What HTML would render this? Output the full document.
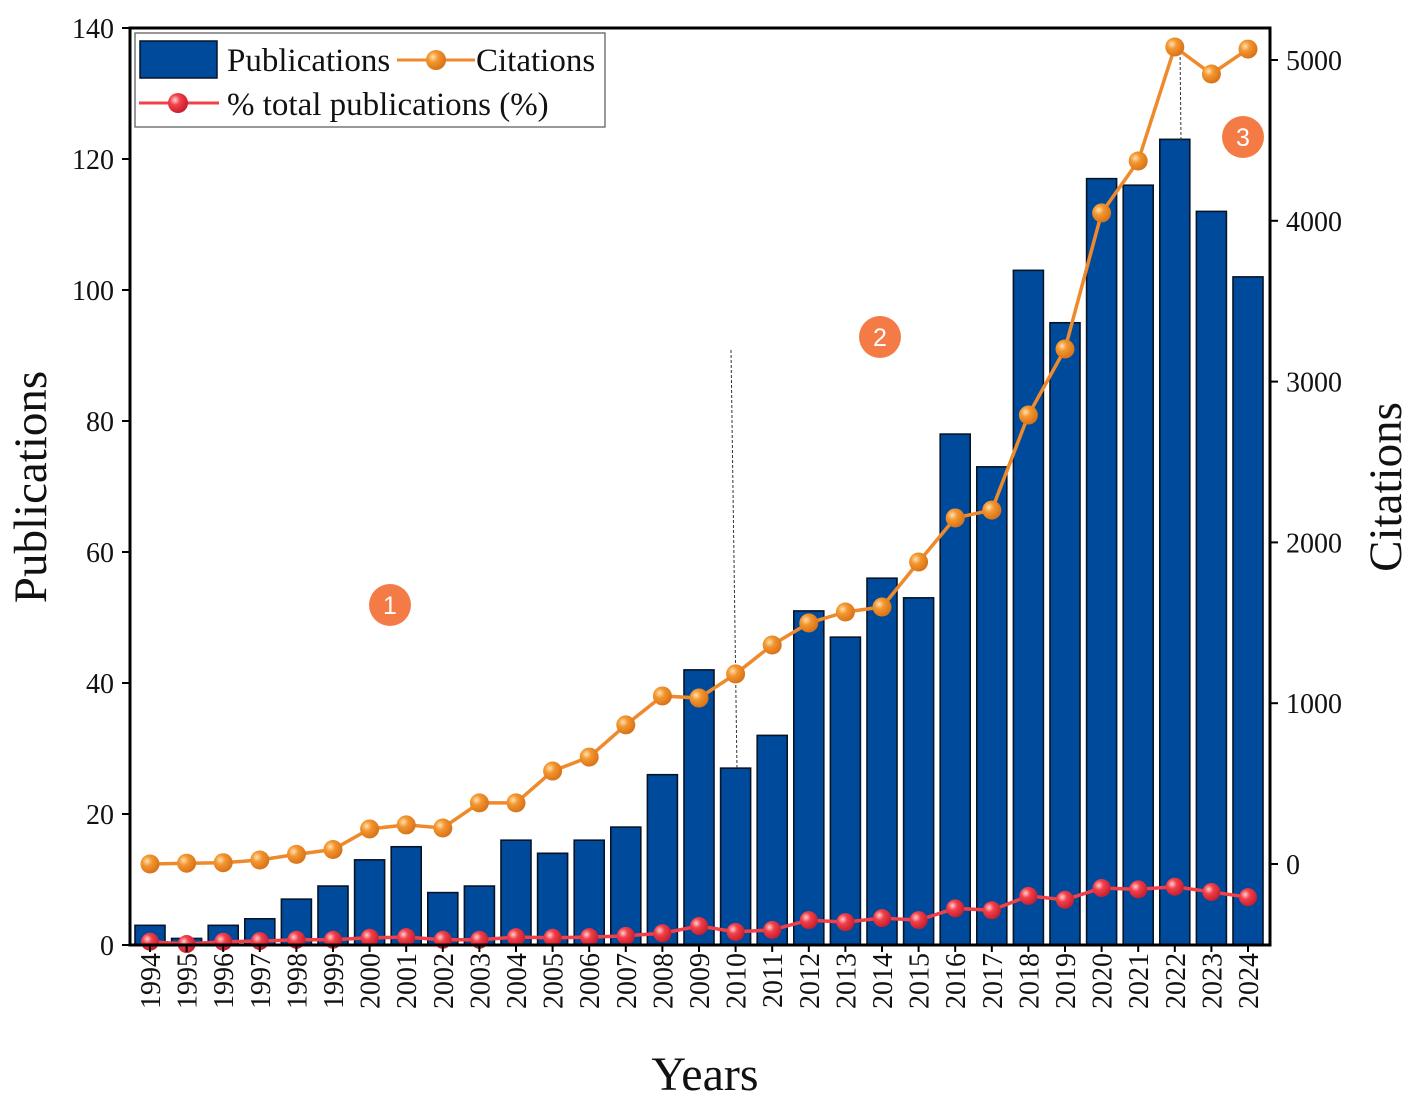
<!DOCTYPE html>
<html><head><meta charset="utf-8"><style>
body{margin:0;background:#fff}
svg{display:block;font-family:"Liberation Serif",serif}
</style></head><body>
<svg id="chart" width="1417" height="1104" viewBox="0 0 1417 1104" xmlns="http://www.w3.org/2000/svg">
<defs>
<radialGradient id="gO" cx="35%" cy="35%" r="65%"><stop offset="0" stop-color="#ffe0b0"/><stop offset="0.4" stop-color="#f3962f"/><stop offset="1" stop-color="#d9741a"/></radialGradient>
<radialGradient id="gR" cx="35%" cy="35%" r="65%"><stop offset="0" stop-color="#ffd0d0"/><stop offset="0.4" stop-color="#f2404a"/><stop offset="1" stop-color="#c82030"/></radialGradient>
</defs>
<g id="marks"></g>
</svg>
<script>
const years=[1994,1995,1996,1997,1998,1999,2000,2001,2002,2003,2004,2005,2006,2007,2008,2009,2010,2011,2012,2013,2014,2015,2016,2017,2018,2019,2020,2021,2022,2023,2024];
const publications=[3,1,3,4,7,9,13,15,8,9,16,14,16,18,26,42,27,32,51,47,56,53,78,73,103,95,117,116,123,112,102];
const citations=[0,5,8,25,60,90,218,243,224,380,380,578,665,865,1045,1032,1182,1362,1499,1567,1598,1878,2152,2201,2792,3203,4049,4372,5081,4913,5068];
const pctTotal=[0.5,0.15,0.5,0.6,0.8,0.8,1.1,1.2,0.8,0.8,1.2,1.1,1.2,1.4,1.8,2.9,2.0,2.3,3.8,3.5,4.1,3.8,5.6,5.3,7.5,6.9,8.7,8.5,8.9,8.1,7.3];
const leftTicks=[0,20,40,60,80,100,120,140];
const rightTicks=[0,1000,2000,3000,4000,5000];

const NS="http://www.w3.org/2000/svg";
const svg=document.getElementById('chart');
const g=document.getElementById('marks');
const L=130,R=1270,T=28,B=945;
const yL=v=>B-(v/140)*(B-T);
const yR=v=>864-v*0.1608;
const step=(1248-150)/30;
const xC=i=>150+i*step;
function el(tag,attrs,parent){const e=document.createElementNS(NS,tag);for(const k in attrs)e.setAttribute(k,attrs[k]);(parent||g).appendChild(e);return e;}

years.forEach((y,i)=>{
  const b=el('rect',{x:xC(i)-15,y:yL(publications[i]),width:30,height:B-yL(publications[i]),fill:'#004a9b',stroke:'#061428','stroke-width':1.6});
  
  
});
const d1=el('line',{x1:731,y1:350,x2:737,y2:770,stroke:'#333','stroke-width':1,'stroke-dasharray':'3,2'});


const d2=el('line',{x1:1180,y1:47,x2:1181,y2:140,stroke:'#333','stroke-width':1,'stroke-dasharray':'3,2'});



const cl=el('polyline',{points:citations.map((v,i)=>xC(i)+','+yR(v)).join(' '),fill:'none',stroke:'#ef8a2c','stroke-width':3.5});


citations.forEach((v,i)=>{
  const c=el('circle',{cx:xC(i),cy:yR(v),r:9.5,fill:'url(#gO)'});
  
  
});
const pl=el('polyline',{points:pctTotal.map((v,i)=>xC(i)+','+yL(v)).join(' '),fill:'none',stroke:'#f2404a','stroke-width':3.5});


pctTotal.forEach((v,i)=>{
  const c=el('circle',{cx:xC(i),cy:yL(v),r:9,fill:'url(#gR)'});
  
  
});

const fr=el('rect',{x:L,y:T,width:R-L,height:B-T,fill:'none',stroke:'#000','stroke-width':3});



leftTicks.forEach(v=>{
  el('line',{x1:L-8,y1:yL(v),x2:L,y2:yL(v),stroke:'#000','stroke-width':2});
  const t=el('text',{x:L-16,y:yL(v)+10,'text-anchor':'end','font-size':28,fill:'#111'});
  t.textContent=v;
  
  
});
rightTicks.forEach(v=>{
  el('line',{x1:R,y1:yR(v),x2:R+8,y2:yR(v),stroke:'#000','stroke-width':2});
  const t=el('text',{x:R+16,y:yR(v)+10,'font-size':28,fill:'#111'});
  t.textContent=v;
  
  
});
years.forEach((y,i)=>{
  el('line',{x1:xC(i),y1:B,x2:xC(i),y2:B+7,stroke:'#000','stroke-width':2});
  const t=el('text',{x:0,y:0,'font-size':28,fill:'#111','text-anchor':'end',transform:`translate(${xC(i)+10},${B+8}) rotate(-90)`});
  t.textContent=y;
  
  
});
let t=el('text',{x:0,y:0,'font-size':47,'text-anchor':'middle',fill:'#111',transform:'translate(46,487) rotate(-90)'});t.textContent='Publications';


t=el('text',{x:0,y:0,'font-size':47,'text-anchor':'middle',fill:'#111',transform:'translate(1401,487) rotate(-90)'});t.textContent='Citations';


t=el('text',{x:705,y:1090,'font-size':48,'text-anchor':'middle',fill:'#111'});t.textContent='Years';



[[390,605,'1'],[880,337,'2'],[1243,137,'3']].forEach(b=>{
  const c=el('circle',{cx:b[0],cy:b[1],r:21,fill:'#f47b45'});
  
  
  const tt=el('text',{x:b[0],y:b[1]+9,'font-size':25,'text-anchor':'middle',fill:'#fff','font-family':'Liberation Sans, sans-serif'});
  tt.textContent=b[2];
});

const lg=el('g',{});


el('rect',{x:135,y:33,width:470,height:94,fill:'#fff',stroke:'#555','stroke-width':1.2},lg);
const lb=el('rect',{x:140,y:41,width:77,height:37,fill:'#004a9b',stroke:'#061428','stroke-width':1.5},lg);


let lt=el('text',{x:227,y:71,'font-size':33,fill:'#111'},lg);lt.textContent='Publications';
el('line',{x1:397,y1:60,x2:475,y2:60,stroke:'#ef8a2c','stroke-width':3},lg);
el('circle',{cx:436,cy:60,r:10,fill:'url(#gO)'},lg);
lt=el('text',{x:476,y:71,'font-size':33,fill:'#111'},lg);lt.textContent='Citations';
el('line',{x1:139,y1:103,x2:219,y2:103,stroke:'#f2404a','stroke-width':3},lg);
el('circle',{cx:178,cy:103,r:10,fill:'url(#gR)'},lg);
lt=el('text',{x:227,y:115,'font-size':33,fill:'#111'},lg);lt.textContent='% total publications (%)';
</script>
</body></html>
